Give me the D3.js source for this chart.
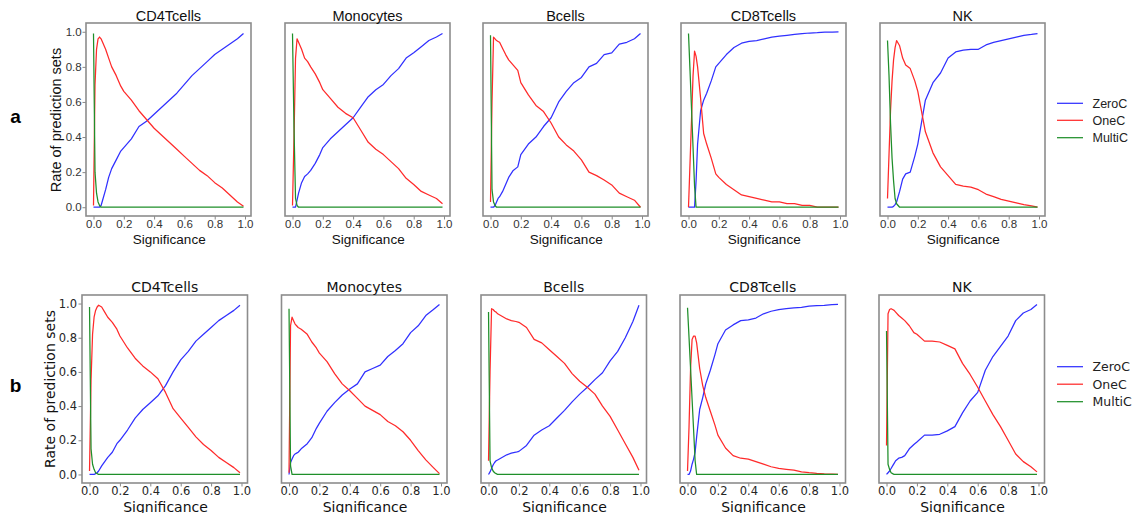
<!DOCTYPE html>
<html>
<head>
<meta charset="utf-8">
<script src="https://cdn.jsdelivr.net/npm/d3@7"></script>
<style>
  body { margin: 0; background: #fff; }
</style>
</head>
<body>
<div id="chart"></div>
<script>
// ---- data ----
// significance levels shared by every panel
var sig = [0, 0.01, 0.02, 0.03, 0.04, 0.05, 0.06, 0.08, 0.1, 0.12, 0.15, 0.18, 0.2, 0.25, 0.3,
  0.35, 0.4, 0.45, 0.5, 0.55, 0.6, 0.65, 0.7, 0.75, 0.8, 0.85, 0.9, 0.95, 0.99];

var cellTypes = ["CD4Tcells", "Monocytes", "Bcells", "CD8Tcells", "NK"];
var seriesNames = ["ZeroC", "OneC", "MultiC"];
var xTicks = [0, 0.2, 0.4, 0.6, 0.8, 1.0];
var yTicks = [0, 0.2, 0.4, 0.6, 0.8, 1.0];

// row a, one array per cell type (same order as cellTypes)
var zeroA = [
  [0, 0, 0, 0, 0, 0.01, 0.04, 0.1, 0.17, 0.22, 0.27, 0.32, 0.34, 0.39, 0.46, 0.49, 0.53, 0.57, 0.61, 0.65, 0.70, 0.75, 0.79, 0.83, 0.87, 0.90, 0.93, 0.96, 0.99],
  [0, 0, 0, 0.04, 0.08, 0.11, 0.14, 0.175, 0.19, 0.21, 0.25, 0.30, 0.34, 0.39, 0.43, 0.47, 0.51, 0.57, 0.63, 0.67, 0.70, 0.75, 0.79, 0.85, 0.88, 0.915, 0.95, 0.97, 0.99],
  [0, 0, 0, 0.01, 0.03, 0.05, 0.06, 0.09, 0.13, 0.17, 0.21, 0.23, 0.30, 0.36, 0.40, 0.46, 0.51, 0.60, 0.66, 0.71, 0.74, 0.80, 0.82, 0.87, 0.88, 0.93, 0.94, 0.96, 0.99],
  [0, 0, 0, 0, 0, 0.15, 0.36, 0.55, 0.61, 0.65, 0.72, 0.80, 0.82, 0.87, 0.91, 0.935, 0.945, 0.95, 0.96, 0.97, 0.975, 0.98, 0.985, 0.99, 0.993, 0.995, 0.998, 0.998, 0.999],
  [0, 0, 0, 0, 0.005, 0.015, 0.03, 0.09, 0.16, 0.19, 0.20, 0.29, 0.36, 0.61, 0.71, 0.765, 0.85, 0.885, 0.895, 0.90, 0.90, 0.925, 0.94, 0.95, 0.96, 0.97, 0.98, 0.985, 0.99]
];
var oneA = [
  [0.01, 0.7, 0.9, 0.96, 0.97, 0.96, 0.94, 0.90, 0.85, 0.80, 0.75, 0.69, 0.66, 0.61, 0.55, 0.50, 0.45, 0.41, 0.37, 0.33, 0.29, 0.25, 0.21, 0.18, 0.14, 0.11, 0.07, 0.03, 0.005],
  [0.01, 0.4, 0.85, 0.96, 0.94, 0.92, 0.90, 0.85, 0.83, 0.80, 0.76, 0.71, 0.67, 0.62, 0.57, 0.535, 0.51, 0.44, 0.37, 0.33, 0.30, 0.26, 0.22, 0.165, 0.13, 0.09, 0.07, 0.05, 0.02],
  [0.03, 0.6, 0.97, 0.96, 0.95, 0.945, 0.94, 0.905, 0.87, 0.84, 0.81, 0.78, 0.71, 0.64, 0.58, 0.545, 0.48, 0.40, 0.355, 0.32, 0.27, 0.20, 0.18, 0.155, 0.127, 0.08, 0.06, 0.04, 0.0],
  [0, 0.25, 0.5, 0.75, 0.89, 0.86, 0.80, 0.62, 0.42, 0.36, 0.28, 0.19, 0.17, 0.13, 0.10, 0.07, 0.06, 0.05, 0.04, 0.03, 0.03, 0.02, 0.02, 0.01, 0.01, 0, 0, 0, 0],
  [0.05, 0.3, 0.55, 0.72, 0.84, 0.91, 0.95, 0.92, 0.85, 0.81, 0.79, 0.72, 0.66, 0.43, 0.31, 0.23, 0.18, 0.13, 0.12, 0.115, 0.10, 0.075, 0.06, 0.045, 0.035, 0.025, 0.015, 0.008, 0.0]
];
var multiA = [
  [0.99, 0.2, 0.08, 0.03, 0.01, 0, 0, 0, 0, 0, 0, 0, 0, 0, 0, 0, 0, 0, 0, 0, 0, 0, 0, 0, 0, 0, 0, 0, 0],
  [0.99, 0.45, 0.05, 0.01, 0, 0, 0, 0, 0, 0, 0, 0, 0, 0, 0, 0, 0, 0, 0, 0, 0, 0, 0, 0, 0, 0, 0, 0, 0],
  [0.98, 0.1, 0.03, 0.01, 0, 0, 0, 0, 0, 0, 0, 0, 0, 0, 0, 0, 0, 0, 0, 0, 0, 0, 0, 0, 0, 0, 0, 0, 0],
  [0.99, 0.78, 0.56, 0.34, 0.12, 0, 0, 0, 0, 0, 0, 0, 0, 0, 0, 0, 0, 0, 0, 0, 0, 0, 0, 0, 0, 0, 0, 0, 0],
  [0.95, 0.75, 0.48, 0.28, 0.15, 0.05, 0.02, 0, 0, 0, 0, 0, 0, 0, 0, 0, 0, 0, 0, 0, 0, 0, 0, 0, 0, 0, 0, 0, 0]
];

// row b
var zeroB = [
  [0, 0, 0, 0, 0.005, 0.01, 0.02, 0.05, 0.075, 0.10, 0.13, 0.18, 0.20, 0.26, 0.33, 0.38, 0.42, 0.46, 0.52, 0.60, 0.67, 0.72, 0.78, 0.82, 0.86, 0.90, 0.93, 0.96, 0.99],
  [0, 0.07, 0.09, 0.11, 0.12, 0.125, 0.13, 0.15, 0.165, 0.18, 0.215, 0.27, 0.30, 0.37, 0.42, 0.465, 0.50, 0.53, 0.60, 0.62, 0.64, 0.69, 0.725, 0.765, 0.83, 0.87, 0.93, 0.965, 0.995],
  [0, 0.015, 0.035, 0.055, 0.07, 0.08, 0.085, 0.095, 0.105, 0.115, 0.125, 0.13, 0.135, 0.17, 0.23, 0.26, 0.285, 0.33, 0.375, 0.425, 0.47, 0.51, 0.555, 0.595, 0.665, 0.72, 0.80, 0.895, 0.99],
  [0, 0, 0.02, 0.06, 0.09, 0.13, 0.22, 0.38, 0.45, 0.53, 0.61, 0.70, 0.765, 0.845, 0.875, 0.90, 0.905, 0.915, 0.94, 0.955, 0.965, 0.97, 0.975, 0.978, 0.985, 0.988, 0.99, 0.993, 0.995],
  [0, 0.01, 0.02, 0.035, 0.05, 0.065, 0.08, 0.095, 0.10, 0.11, 0.15, 0.175, 0.19, 0.23, 0.23, 0.235, 0.255, 0.28, 0.36, 0.43, 0.48, 0.61, 0.69, 0.75, 0.81, 0.90, 0.945, 0.965, 0.995]
];
var oneB = [
  [0.02, 0.55, 0.82, 0.92, 0.96, 0.98, 0.99, 0.98, 0.95, 0.92, 0.89, 0.85, 0.81, 0.74, 0.68, 0.635, 0.60, 0.56, 0.48, 0.385, 0.33, 0.275, 0.22, 0.175, 0.14, 0.10, 0.07, 0.04, 0.01],
  [0.01, 0.87, 0.92, 0.90, 0.88, 0.87, 0.86, 0.85, 0.835, 0.82, 0.775, 0.74, 0.71, 0.66, 0.59, 0.53, 0.49, 0.445, 0.40, 0.375, 0.35, 0.31, 0.285, 0.25, 0.20, 0.14, 0.085, 0.04, 0.005],
  [0.08, 0.6, 0.97, 0.965, 0.955, 0.95, 0.94, 0.93, 0.92, 0.91, 0.90, 0.895, 0.89, 0.86, 0.79, 0.77, 0.73, 0.69, 0.65, 0.59, 0.545, 0.51, 0.47, 0.40, 0.34, 0.26, 0.18, 0.10, 0.025],
  [0.02, 0.28, 0.62, 0.79, 0.81, 0.81, 0.77, 0.62, 0.52, 0.45, 0.37, 0.29, 0.23, 0.155, 0.11, 0.095, 0.09, 0.075, 0.06, 0.045, 0.035, 0.03, 0.025, 0.015, 0.01, 0.006, 0.003, 0.002, 0.001],
  [0.17, 0.94, 0.965, 0.97, 0.965, 0.96, 0.95, 0.93, 0.915, 0.90, 0.87, 0.83, 0.82, 0.78, 0.78, 0.775, 0.755, 0.735, 0.65, 0.585, 0.51, 0.43, 0.35, 0.28, 0.20, 0.12, 0.075, 0.045, 0.015]
];
var multiB = [
  [0.98, 0.15, 0.06, 0.03, 0.01, 0.005, 0, 0, 0, 0, 0, 0, 0, 0, 0, 0, 0, 0, 0, 0, 0, 0, 0, 0, 0, 0, 0, 0, 0],
  [0.97, 0.05, 0, 0, 0, 0, 0, 0, 0, 0, 0, 0, 0, 0, 0, 0, 0, 0, 0, 0, 0, 0, 0, 0, 0, 0, 0, 0, 0],
  [0.95, 0.08, 0.04, 0.02, 0.01, 0.005, 0, 0, 0, 0, 0, 0, 0, 0, 0, 0, 0, 0, 0, 0, 0, 0, 0, 0, 0, 0, 0, 0, 0],
  [0.975, 0.80, 0.62, 0.44, 0.26, 0.08, 0, 0, 0, 0, 0, 0, 0, 0, 0, 0, 0, 0, 0, 0, 0, 0, 0, 0, 0, 0, 0, 0, 0],
  [0.84, 0.06, 0.03, 0.01, 0.005, 0, 0, 0, 0, 0, 0, 0, 0, 0, 0, 0, 0, 0, 0, 0, 0, 0, 0, 0, 0, 0, 0, 0, 0]
];

// ---- layout ----
var svgWidth = 1132;
var svgHeight = 513;
var colors = ["#3030ff", "#ff2a2a", "#1f8f2a"];

// the two rows were rendered with slightly different fonts / sizes
var rows = [
  {letter: "a", letterY: 122.7, lefts: [86, 285, 483, 681, 880], w: 165, top: 23, h: 193,
   font: "Arial, 'Liberation Sans', sans-serif", tickFont: 11.5, labFont: 14.5, xlabFont: 13.5,
   titleGap: 2.5, xlabY: 243.5, tickPad: 0.5,
   ylabX: 61, ylabY: 120, yPad: 0.8, tickColor: "#333", legendY: [103.3, 120.3, 137.7]},
  {letter: "b", letterY: 391.7, lefts: [82, 281.5, 481, 680, 879], w: 165.5, top: 295, h: 188,
   font: "'DejaVu Sans', sans-serif", tickFont: 11.5, labFont: 14, xlabFont: 14,
   titleGap: 3.5, xlabY: 511.5, tickPad: 0.8,
   ylabX: 55, ylabY: 389, yPad: 1.5, tickColor: "#262626", legendY: [366.7, 384.2, 401.7]}
];

var svg = d3.select("#chart")
  .append("svg")
  .attr("width", svgWidth)
  .attr("height", svgHeight)
  .style("background", "#fff");

function drawRow(row, zero, one, multi) {
  // panel letter
  svg.append("text")
    .attr("x", 15.5)
    .attr("y", row.letterY)
    .attr("text-anchor", "middle")
    .style("font-family", "Arial, 'Liberation Sans', sans-serif")
    .style("font-weight", "bold")
    .style("font-size", "19px")
    .text(row.letter);

  row.lefts.forEach(function(left, i) {
    var x = d3.scaleLinear().domain([-0.0495, 1.0395]).range([left, left + row.w]);
    var y = d3.scaleLinear().domain([-0.05, 1.05]).range([row.top + row.h, row.top]);
    var g = svg.append("g").style("font-family", row.font);

    // x axis
    var xAxis = g.append("g")
      .attr("transform", `translate(0, ${row.top + row.h})`)
      .call(d3.axisBottom(x).tickValues(xTicks).tickFormat(d3.format(".1f"))
        .tickSize(3.5).tickPadding(row.tickPad));
    xAxis.select(".domain").remove();
    xAxis.selectAll("line").attr("stroke", "#888");
    xAxis.selectAll("text")
      .style("font-family", row.font)
      .style("font-size", row.tickFont + "px")
      .attr("fill", row.tickColor);

    // y axis only on the first panel of the row
    if (i === 0) {
      var yAxis = g.append("g")
        .attr("transform", `translate(${left}, 0)`)
        .call(d3.axisLeft(y).tickValues(yTicks).tickFormat(d3.format(".1f"))
          .tickSize(3.5).tickPadding(row.yPad));
      yAxis.select(".domain").remove();
      yAxis.selectAll("line").attr("stroke", "#888");
      yAxis.selectAll("text")
        .style("font-family", row.font)
        .style("font-size", row.tickFont + "px")
        .attr("fill", row.tickColor);

      g.append("text")
        .attr("transform", `translate(${row.ylabX}, ${row.ylabY}) rotate(-90)`)
        .attr("text-anchor", "middle")
        .style("font-size", row.labFont + "px")
        .attr("fill", "#111")
        .text("Rate of prediction sets");
    }

    // curves: ZeroC, OneC, MultiC
    var line = d3.line()
      .x((d, j) => x(sig[j]))
      .y(d => y(d));
    [zero[i], one[i], multi[i]].forEach(function(vals, k) {
      g.append("path")
        .datum(vals)
        .attr("d", line)
        .attr("fill", "none")
        .attr("stroke", colors[k])
        .attr("stroke-width", 1.25)
        .attr("stroke-linejoin", "round");
    });

    // frame
    g.append("rect")
      .attr("x", left)
      .attr("y", row.top)
      .attr("width", row.w)
      .attr("height", row.h)
      .attr("fill", "none")
      .attr("stroke", "#8c8c8c")
      .attr("stroke-width", 1.6);

    // title
    g.append("text")
      .attr("x", left + row.w / 2)
      .attr("y", row.top - row.titleGap)
      .attr("text-anchor", "middle")
      .style("font-size", row.labFont + "px")
      .attr("fill", "#111")
      .text(cellTypes[i]);

    // x label
    g.append("text")
      .attr("x", x(0.5))
      .attr("y", row.xlabY)
      .attr("text-anchor", "middle")
      .style("font-size", row.xlabFont + "px")
      .attr("fill", "#111")
      .text("Significance");
  });

  // legend
  var legend = svg.append("g").style("font-family", row.font);
  seriesNames.forEach(function(name, k) {
    legend.append("line")
      .attr("x1", 1057).attr("x2", 1083)
      .attr("y1", row.legendY[k]).attr("y2", row.legendY[k])
      .attr("stroke", colors[k])
      .attr("stroke-width", 1.25);
    legend.append("text")
      .attr("x", 1092.5)
      .attr("y", row.legendY[k])
      .attr("dy", "0.35em")
      .style("font-size", "12.5px")
      .attr("fill", "#222")
      .text(name);
  });
}

drawRow(rows[0], zeroA, oneA, multiA);
drawRow(rows[1], zeroB, oneB, multiB);
</script>
</body>
</html>
